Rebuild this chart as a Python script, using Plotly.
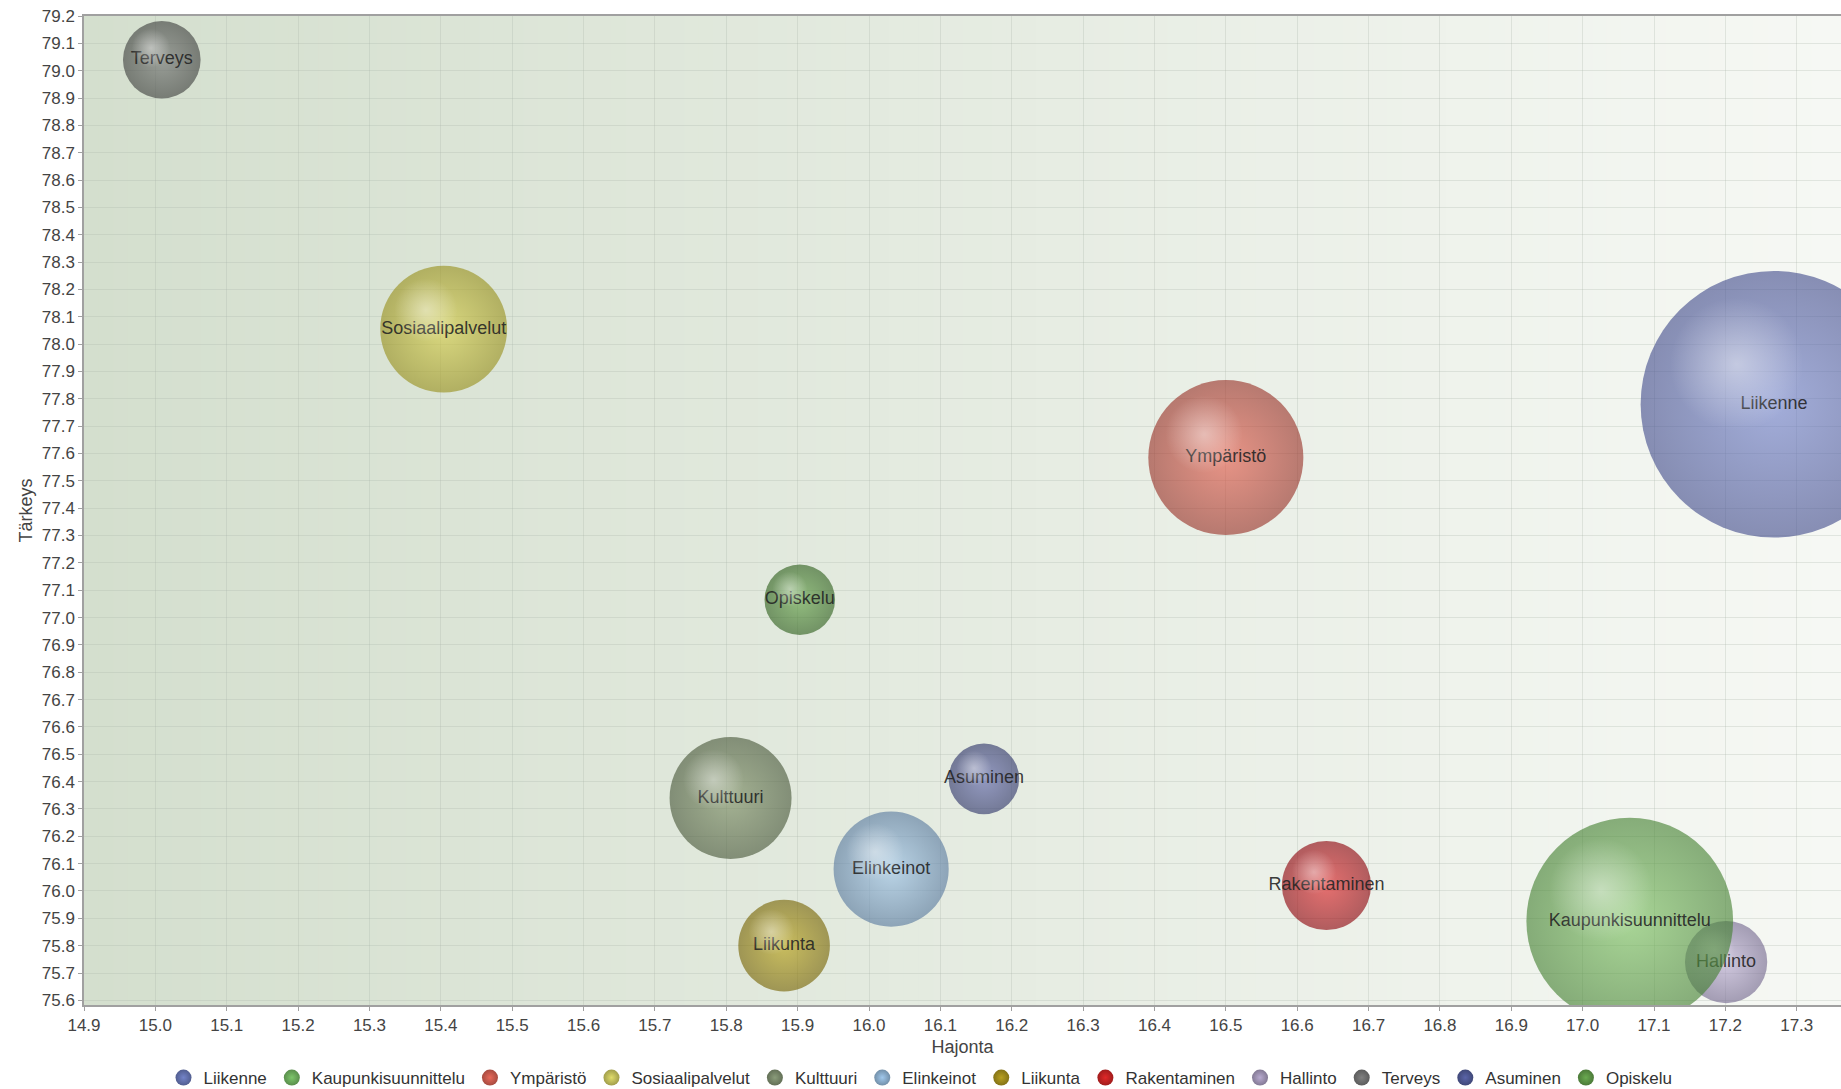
import plotly.graph_objects as go

# ---- data ----
categories = ["Liikenne", "Kaupunkisuunnittelu", "Ympäristö", "Sosiaalipalvelut",
              "Kulttuuri", "Elinkeinot", "Liikunta", "Rakentaminen", "Hallinto",
              "Terveys", "Asuminen", "Opiskelu"]
hajonta = [17.268, 17.066, 16.500, 15.404, 15.806, 16.031, 15.881, 16.641, 17.201,
           15.009, 16.161, 15.903]
tarkeys = [77.78, 75.89, 77.585, 78.055, 76.34, 76.08, 75.80, 76.02, 75.74,
           79.04, 76.41, 77.065]
# bubble diameter expressed in units of the Tärkeys axis
koko = [0.975, 0.756, 0.567, 0.464, 0.446, 0.421, 0.335, 0.326, 0.301, 0.284, 0.258, 0.258]

# ---- styles: target (as seen) centre / rim colours of each sphere ----
center_rgb = [(125, 140, 205), (135, 198, 110), (230, 108, 92), (218, 212, 92),
              (138, 155, 116), (168, 202, 234), (190, 170, 40), (225, 55, 58),
              (190, 178, 212), (130, 132, 130), (112, 118, 178), (112, 170, 86)]
edge_rgb = [(85, 95, 150), (85, 140, 68), (160, 70, 60), (160, 154, 50),
            (90, 104, 76), (104, 134, 166), (130, 114, 18), (150, 28, 34),
            (126, 116, 150), (80, 82, 80), (66, 72, 118), (66, 110, 50)]
legend_rgb = [(115, 131, 200), (125, 198, 106), (232, 105, 90), (224, 220, 106),
              (138, 156, 122), (160, 200, 236), (184, 160, 32), (224, 40, 40),
              (184, 170, 208), (128, 128, 128), (90, 100, 168), (106, 170, 80)]
ALPHA = 0.88
BG_SEEN = (228, 234, 225)

FONT = "Liberation Sans, Arial, sans-serif"
W, H = 1841, 1089
ML, MR, MT, MB = 84, 0, 16, 84
XR = [14.9, 17.362]
YR = [75.583, 79.2]
plot_w = W - ML - MR
plot_h = H - MT - MB
px_x = plot_w / (XR[1] - XR[0])
px_y = plot_h / (YR[1] - YR[0])
sizeref = 1.0 / px_y   # size values are in y-axis units


def rgba(c, a):
    return "rgba(%d,%d,%d,%.3f)" % (c[0], c[1], c[2], a)


def through(seen, a=ALPHA, bg=BG_SEEN):
    """colour that, drawn with alpha a over bg, looks like `seen`"""
    c = [max(0, min(255, round((s - (1 - a) * b) / a))) for s, b in zip(seen, bg)]
    return rgba(c, a)


fig = go.Figure()

# draw in reverse order (first series on top)
for i in reversed(range(len(categories))):
    fig.add_trace(go.Scatter(
        x=[hajonta[i]], y=[tarkeys[i]],
        mode="markers+text",
        name=categories[i],
        legendgroup=categories[i],
        showlegend=False,
        text=[categories[i]],
        textposition="middle center",
        textfont=dict(family=FONT, size=18, color="rgba(35,35,35,0.9)"),
        marker=dict(
            size=[koko[i]], sizemode="diameter", sizeref=sizeref,
            color=through(edge_rgb[i]),
            gradient=dict(type="radial", color=through(center_rgb[i])),
            line=dict(width=0),
        ),
        hoverinfo="name",
    ))
    # specular highlight (offset up-left from bubble centre)
    r_y = koko[i] / 2.0
    hx = hajonta[i] - 0.28 * r_y * px_y / px_x
    hy = tarkeys[i] + 0.30 * r_y
    fig.add_trace(go.Scatter(
        x=[hx], y=[hy], mode="markers", showlegend=False, hoverinfo="skip",
        legendgroup=categories[i],
        marker=dict(
            size=[koko[i] * 0.5], sizemode="diameter", sizeref=sizeref,
            color="rgba(255,255,255,0)",
            gradient=dict(type="radial", color="rgba(255,255,255,0.62)"),
            line=dict(width=0),
        ),
    ))

# legend entries (fixed-size symbols)
for i in range(len(categories)):
    fig.add_trace(go.Scatter(
        x=[None], y=[None], mode="markers", name=categories[i],
        legendgroup=categories[i], showlegend=True, legendrank=i + 1,
        marker=dict(size=16, color=rgba(tuple(int(v * 0.72) for v in legend_rgb[i]), 1),
                    gradient=dict(type="radial", color=rgba(legend_rgb[i], 1)),
                    line=dict(width=0)),
    ))

# background gradient of the plot area
N = 120
left_c = (212, 223, 206)
right_c = (246, 248, 244)
shapes = []
for k in range(N):
    t = k / (N - 1)
    c = tuple(int(round(left_c[j] + (right_c[j] - left_c[j]) * t)) for j in range(3))
    shapes.append(dict(type="rect", xref="x domain", yref="y domain",
                       x0=k / N, x1=(k + 1) / N + 0.002, y0=0, y1=1,
                       fillcolor="rgb(%d,%d,%d)" % c, line=dict(width=0),
                       layer="below"))

axis_common = dict(
    showgrid=True, gridcolor="rgba(170,180,170,0.28)", gridwidth=1,
    showline=True, linecolor="#a0a0a0", linewidth=1.5,
    ticks="outside", ticklen=4, tickcolor="#a0a0a0",
    tickfont=dict(family=FONT, size=17, color="#444444"),
    zeroline=False, dtick=0.1, tickformat=".1f",
)

fig.update_layout(
    width=W, height=H, autosize=False,
    margin=dict(l=ML, r=MR, t=MT, b=MB),
    paper_bgcolor="white", plot_bgcolor="rgb(246,248,244)",
    font=dict(family=FONT, size=17, color="#444444"),
    shapes=shapes,
    xaxis=dict(range=XR, tick0=14.9, mirror=True,
               title=dict(text="Hajonta", standoff=6,
                          font=dict(family=FONT, size=18, color="#444444")),
               automargin=False, **axis_common),
    yaxis=dict(range=YR, tick0=75.6,
               title=dict(text="Tärkeys", standoff=4,
                          font=dict(family=FONT, size=18, color="#444444")),
               automargin=False, **axis_common),
    legend=dict(orientation="h", xref="container", yref="container",
                x=0.5, xanchor="center", y=0.0101, yanchor="middle",
                font=dict(family=FONT, size=17, color="#333333"),
                bgcolor="rgba(0,0,0,0)", itemwidth=30, tracegroupgap=0,
                itemclick=False, itemdoubleclick=False),
    showlegend=True,
)

fig.write_html("out.html", config={"displayModeBar": False},
               post_script="document.body.style.margin='0';document.body.style.overflow='hidden';")
